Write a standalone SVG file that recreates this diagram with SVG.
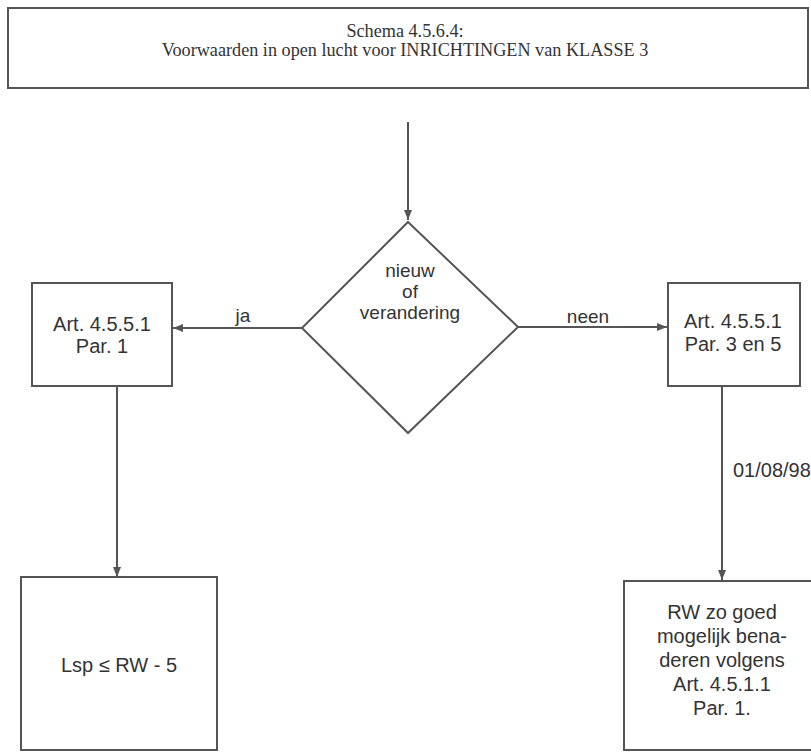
<svg xmlns="http://www.w3.org/2000/svg" width="811" height="752" viewBox="0 0 811 752">
<style>
.box{fill:#fff;stroke:#555;stroke-width:2}
.ln{fill:none;stroke:#555;stroke-width:2}
.t{font-family:"Liberation Sans",Arial,sans-serif;font-size:20px;fill:#333;text-anchor:middle}
.d{font-size:19px}
.ti{font-family:"Liberation Serif","Times New Roman",serif;font-size:18.2px;fill:#333;text-anchor:middle}
</style>
<defs>
<marker id="arr" viewBox="0 0 10 10" refX="10" refY="5" markerWidth="10" markerHeight="10" markerUnits="userSpaceOnUse" orient="auto">
<path d="M0,1 L10,5 L0,9 Z" fill="#555"/>
</marker>
</defs>
<rect width="811" height="752" fill="#fff"/>
<g id="title">
<rect class="box" x="8" y="8" width="800" height="80" stroke="#777" stroke-width="1.5"/>
<text class="ti" x="405" y="37">Schema 4.5.6.4:</text>
<text class="ti" x="405" y="56">Voorwaarden in open lucht voor INRICHTINGEN van KLASSE 3</text>
</g>
<g id="connectors">
<line class="ln" x1="408" y1="122" x2="408" y2="220" marker-end="url(#arr)"/>
<line class="ln" x1="302" y1="328" x2="173" y2="328" marker-end="url(#arr)"/>
<text class="t d" x="243" y="322">ja</text>
<line class="ln" x1="518" y1="327" x2="667" y2="327" marker-end="url(#arr)"/>
<text class="t d" x="588" y="323">neen</text>
<line class="ln" x1="117" y1="386" x2="117" y2="577" marker-end="url(#arr)"/>
<line class="ln" x1="722" y1="386" x2="722" y2="580" marker-end="url(#arr)"/>
<text class="t" x="733" y="477" style="text-anchor:start">01/08/98</text>
</g>
<g id="decision">
<polygon class="box" points="408,222 518,327 408,433 302,328"/>
<text class="t d" x="410" y="277">nieuw</text>
<text class="t d" x="410" y="298">of</text>
<text class="t d" x="410" y="319">verandering</text>
</g>
<g id="art-par1">
<rect class="box" x="32" y="283" width="140" height="103"/>
<text class="t" x="102" y="331">Art. 4.5.5.1</text>
<text class="t" x="102" y="353">Par. 1</text>
</g>
<g id="art-par35">
<rect class="box" x="668" y="283" width="132" height="103"/>
<text class="t" x="733" y="328">Art. 4.5.5.1</text>
<text class="t" x="733" y="351">Par. 3 en 5</text>
</g>
<g id="lsp">
<rect class="box" x="21" y="577" width="196" height="173"/>
<text class="t" x="119" y="672">Lsp ≤ RW - 5</text>
</g>
<g id="rw">
<rect class="box" x="624" y="581" width="200" height="169"/>
<text class="t" x="722" y="619">RW zo goed</text>
<text class="t" x="722" y="643">mogelijk bena-</text>
<text class="t" x="722" y="667">deren volgens</text>
<text class="t" x="722" y="691">Art. 4.5.1.1</text>
<text class="t" x="722" y="715">Par. 1.</text>
</g>
</svg>
